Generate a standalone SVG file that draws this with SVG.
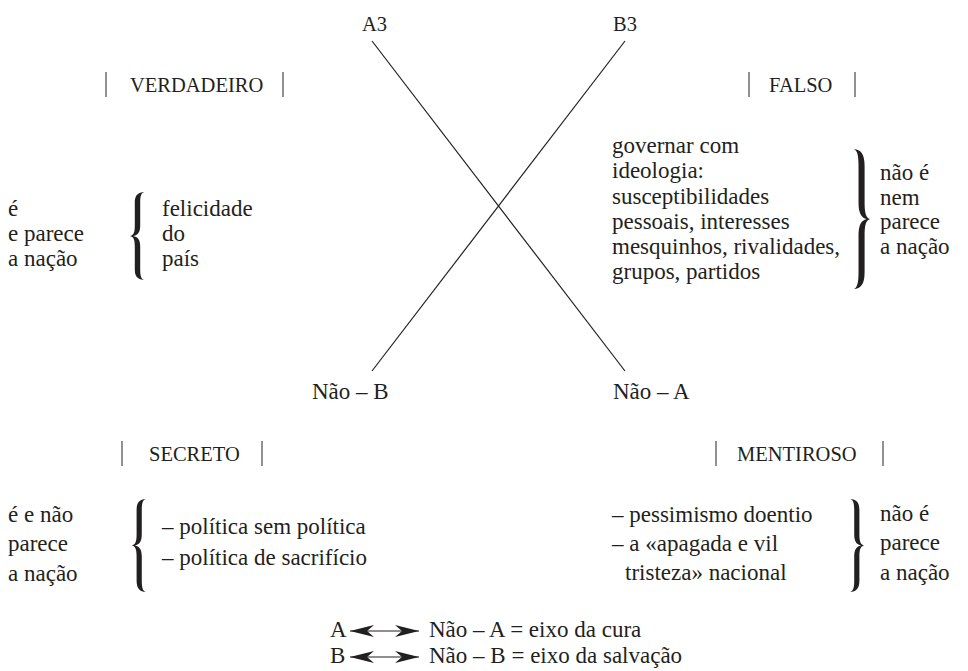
<svg xmlns="http://www.w3.org/2000/svg" width="968" height="671" viewBox="0 0 968 671" font-family="'Liberation Serif', 'Times New Roman', serif">
<defs>
<style>
text{font-family:'Liberation Serif','Times New Roman',serif;fill:#231f20}
.b{font-size:23px}
.c{font-size:20.5px}
.bar{stroke:#555;stroke-width:1.3}
.ln{stroke:#231f20;stroke-width:1.2;fill:none}
.br{fill:#231f20}
</style>
<path id="brace" d="M12,0 C7,0.5 4,3 4,12 L4,38 C4,46 3,49 0,50 C3,51 4,54 4,62 L4,88 C4,97 7,99.5 12,100 C9.5,99 8.5,96 8.5,88 L8.5,62 C8.5,54 6.5,51 2.5,50 C6.5,49 8.5,46 8.5,38 L8.5,12 C8.5,4 9.5,1 12,0 Z"/>
<marker id="ah" viewBox="0 0 24 12" refX="24" refY="6" markerWidth="24" markerHeight="12" markerUnits="userSpaceOnUse" orient="auto-start-reverse">
<path d="M0,0 L24,6 L0,12 L7,6 Z" fill="#231f20"/>
</marker>
</defs>
<g id="connectors">
<line class="ln" x1="372" y1="41" x2="625" y2="371"/>
<line class="ln" x1="625" y1="41" x2="372" y2="371"/>
</g>
<g id="A3"><text class="c" x="362" y="31">A3</text></g>
<g id="B3"><text class="c" x="613" y="31">B3</text></g>
<g id="verdadeiro">
<line class="bar" x1="106" y1="72" x2="106" y2="97"/>
<text class="c" x="130" y="92">VERDADEIRO</text>
<line class="bar" x1="283" y1="72" x2="283" y2="97"/>
</g>
<g id="falso">
<line class="bar" x1="749" y1="72" x2="749" y2="97"/>
<text class="c" x="769" y="92">FALSO</text>
<line class="bar" x1="855" y1="72" x2="855" y2="97"/>
</g>
<g id="verdadeiro-body">
<text class="b" x="8" y="216">é</text>
<text class="b" x="8" y="241">e parece</text>
<text class="b" x="8" y="266">a nação</text>
<use href="#brace" class="br" transform="translate(130,192) scale(1.2,0.88)"/>
<text class="b" x="162" y="216">felicidade</text>
<text class="b" x="162" y="241">do</text>
<text class="b" x="162" y="266">país</text>
</g>
<g id="falso-body">
<text class="b" x="612" y="153">governar com</text>
<text class="b" x="612" y="178">ideologia:</text>
<text class="b" x="612" y="204">susceptibilidades</text>
<text class="b" x="612" y="229">pessoais, interesses</text>
<text class="b" x="612" y="254">mesquinhos, rivalidades,</text>
<text class="b" x="612" y="279">grupos, partidos</text>
<use href="#brace" class="br" transform="translate(870,149) scale(-1.35,1.4)"/>
<text class="b" x="880" y="180">não é</text>
<text class="b" x="880" y="205">nem</text>
<text class="b" x="880" y="229">parece</text>
<text class="b" x="880" y="254">a nação</text>
</g>
<g id="nao-b"><text class="b" x="312" y="399">Não – B</text></g>
<g id="nao-a"><text class="b" x="613" y="399">Não – A</text></g>
<g id="secreto">
<line class="bar" x1="122" y1="441" x2="122" y2="466"/>
<text class="c" x="149" y="461">SECRETO</text>
<line class="bar" x1="262" y1="441" x2="262" y2="466"/>
</g>
<g id="mentiroso">
<line class="bar" x1="716" y1="441" x2="716" y2="466"/>
<text class="c" x="737" y="461">MENTIROSO</text>
<line class="bar" x1="883" y1="441" x2="883" y2="466"/>
</g>
<g id="secreto-body">
<text class="b" x="8" y="522">é e não</text>
<text class="b" x="8" y="551">parece</text>
<text class="b" x="8" y="581">a nação</text>
<use href="#brace" class="br" transform="translate(132,499) scale(1.15,0.93)"/>
<text class="b" x="162" y="534">– política sem política</text>
<text class="b" x="162" y="565">– política de sacrifício</text>
</g>
<g id="mentiroso-body">
<text class="b" x="612" y="522">– pessimismo doentio</text>
<text class="b" x="612" y="551">– a «apagada e vil</text>
<text class="b" x="625" y="580">tristeza» nacional</text>
<use href="#brace" class="br" transform="translate(864,499) scale(-1.15,0.93)"/>
<text class="b" x="880" y="521">não é</text>
<text class="b" x="880" y="550">parece</text>
<text class="b" x="880" y="580">a nação</text>
</g>
<g id="legend">
<text class="b" x="330" y="637">A</text>
<line class="ln" x1="350" y1="631" x2="419" y2="631" marker-start="url(#ah)" marker-end="url(#ah)"/>
<text class="b" x="429" y="637">Não – A = eixo da cura</text>
<text class="b" x="330" y="663">B</text>
<line class="ln" x1="350" y1="657" x2="419" y2="657" marker-start="url(#ah)" marker-end="url(#ah)"/>
<text class="b" x="429" y="663">Não – B = eixo da salvação</text>
</g>
</svg>
